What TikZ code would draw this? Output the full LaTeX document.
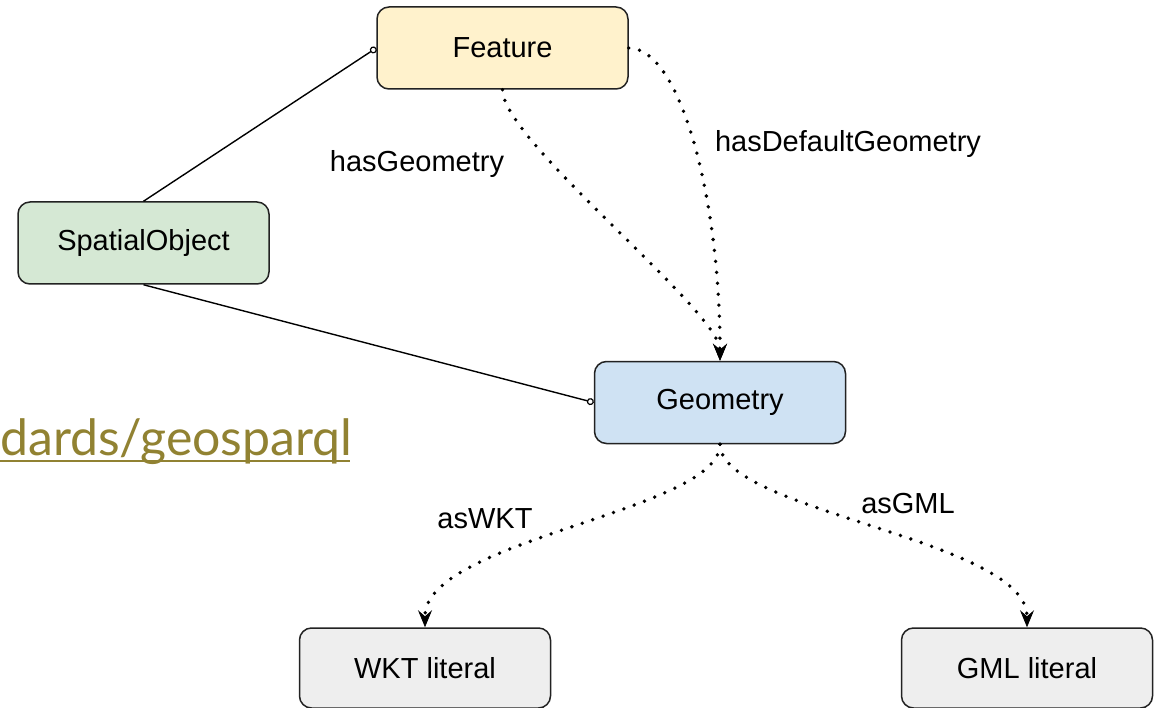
\documentclass[tikz,border=0pt]{standalone}
\usepackage{fontspec}
\setmainfont{Liberation Sans}
\newfontfamily\geofont{Lato}
\usetikzlibrary{arrows.meta}
\definecolor{featfill}{HTML}{FFF2CC}
\definecolor{spatfill}{HTML}{D5E8D4}
\definecolor{geomfill}{HTML}{CFE2F3}
\definecolor{litfill}{HTML}{EEEEEE}
\definecolor{olive}{RGB}{145,130,50}
\definecolor{edgeline}{HTML}{222222}
\tikzset{
  box/.style={draw=edgeline, line width=1.5pt, rounded corners=12pt,
    minimum width=251pt, minimum height=82pt, inner sep=0pt,
    font=\fontsize{29}{34}\selectfont},
  lbl/.style={font=\fontsize{29}{34}\selectfont, inner sep=0pt},
  assoc/.style={draw=black, line width=1.4pt,
    -{Circle[open, length=7pt, width=7pt, fill=white, line width=1.2pt]}},
  dotrel/.style={draw=black, line width=3.8pt, line cap=round,
    dash pattern=on 0pt off 11pt,
    -{Stealth[length=17pt, width=14pt, inset=6pt, line width=0.8pt]}},
}
\begin{document}
\begin{tikzpicture}[x=1pt, y=-1pt]
\useasboundingbox (0,0) rectangle (1161,708);
\fill[white] (0,0) rectangle (1161,708);

% link text
\node[anchor=base west, inner sep=0pt, text=olive, font=\geofont\fontsize{50}{54}\selectfont] (url) at (0,455) {dards/geosparql};
\draw[olive, line width=2pt] (0,461) -- (350,461);

% nodes
\node[box, fill=featfill] (f) at (502.5,48) {Feature};
\node[box, fill=spatfill] (s) at (143.5,243) {SpatialObject};
\node[box, fill=geomfill] (g) at (720,402.5) {Geometry};
\node[box, fill=litfill, minimum height=80pt] (w) at (425,668) {WKT literal};
\node[box, fill=litfill, minimum height=80pt] (m) at (1027,668) {GML literal};

% solid connectors
\draw[assoc] (s.north) -- (f.west);
\draw[assoc] (s.south) -- (g.west);

% dotted relations
\draw[dotrel] (f.south) .. controls +(0,51) and +(0,-50) .. (g.north);
\draw[dotrel] (f.east) .. controls +(52,0) and +(0,-162) .. (g.north);
\draw[dotrel] (g.south) .. controls +(0,67) and +(0,-88) .. (w.north);
\draw[dotrel] (g.south) .. controls +(0,67) and +(0,-88) .. (m.north);

% labels
\node[lbl] (l1) at (417,164) {hasGeometry};
\node[lbl] (l2) at (848,144) {hasDefaultGeometry};
\node[lbl] (l3) at (485,519) {asWKT};
\node[lbl] (l4) at (908,504) {asGML};
\end{tikzpicture}
\end{document}
